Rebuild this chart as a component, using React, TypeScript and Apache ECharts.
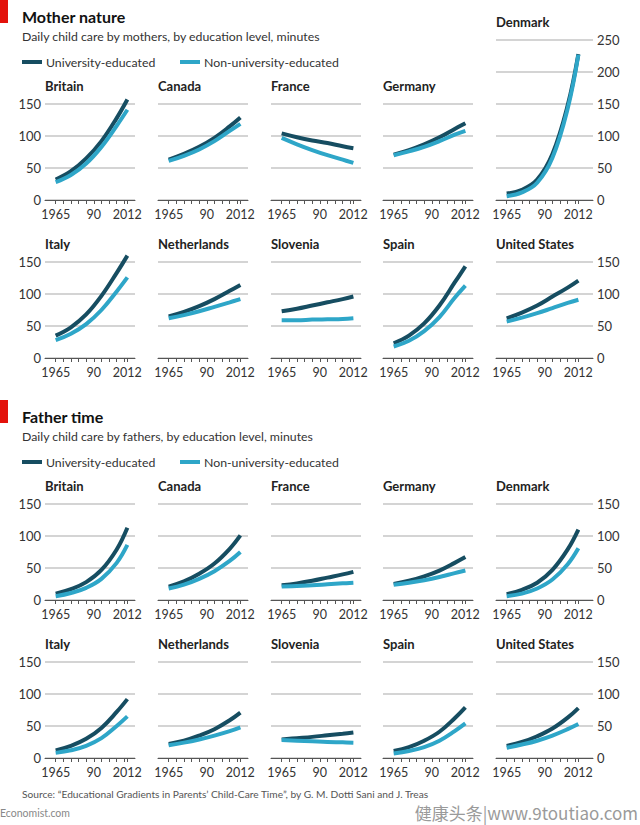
import React, { useEffect, useRef } from "react";
import * as echarts from "echarts";

// ---- Data (minutes per day) ----
const YEARS = [1965, 1975, 1985, 1995, 2005, 2012];
const ROW1 = ["Britain", "Canada", "France", "Germany", "Denmark"];
const ROW2 = ["Italy", "Netherlands", "Slovenia", "Spain", "United States"];
const X_TICKS = [1965, 1970, 1975, 1980, 1985, 1990, 1995, 2000, 2005, 2010, 2012];
const X_LABELS = [1965, 1990, 2012];
const Y_TICKS_STD = [0, 50, 100, 150];
const Y_TICKS_DK = [0, 50, 100, 150, 200, 250];

// Mothers
const mBritainUni = [32, 45, 65, 92, 128, 157];
const mBritainNon = [28, 39, 57, 83, 116, 141];
const mCanadaUni = [63, 72, 83, 97, 115, 129];
const mCanadaNon = [61, 69, 79, 92, 108, 119];
const mFranceUni = [104, 98, 93, 89, 84, 81];
const mFranceNon = [97, 87, 78, 70, 63, 58];
const mGermanyUni = [71, 78, 87, 98, 111, 120];
const mGermanyNon = [70, 76, 83, 92, 102, 108];
const mDenmarkUni = [10, 16, 32, 72, 148, 228];
const mDenmarkNon = [6, 12, 27, 66, 143, 227];
const mItalyUni = [35, 48, 68, 97, 133, 160];
const mItalyNon = [28, 38, 53, 75, 104, 126];
const mNetherlandsUni = [65, 72, 81, 92, 105, 114];
const mNetherlandsNon = [62, 67, 73, 80, 87, 92];
const mSloveniaUni = [73, 77, 82, 87, 92, 96];
const mSloveniaNon = [59, 59, 60, 60.5, 61, 62];
const mSpainUni = [23, 35, 54, 82, 118, 143];
const mSpainNon = [18, 27, 42, 64, 94, 113];
const mUSUni = [62, 71, 82, 96, 110, 121];
const mUSNon = [57, 63, 70, 78, 86, 91];

// Fathers
const fBritainUni = [10, 17, 28, 47, 79, 113];
const fBritainNon = [6, 11, 19, 33, 58, 86];
const fCanadaUni = [21, 29, 41, 57, 80, 101];
const fCanadaNon = [18, 24, 33, 45, 61, 75];
const fFranceUni = [23, 26, 30, 35, 40, 44];
const fFranceNon = [21, 22, 23, 24.5, 26, 27];
const fGermanyUni = [25, 30, 37, 46, 58, 67];
const fGermanyNon = [24, 27, 31, 36, 42, 46];
const fDenmarkUni = [9, 16, 27, 47, 79, 110];
const fDenmarkNon = [6, 10, 18, 32, 56, 81];
const fItalyUni = [12, 19, 30, 47, 72, 92];
const fItalyNon = [8, 12, 19, 31, 50, 65];
const fNetherlandsUni = [22, 27, 35, 45, 59, 71];
const fNetherlandsNon = [20, 24, 29, 35, 42, 48];
const fSloveniaUni = [29, 31, 33, 35.5, 38, 40];
const fSloveniaNon = [28, 27, 26, 25, 24.5, 24];
const fSpainUni = [11, 17, 27, 41, 62, 79];
const fSpainNon = [7, 11, 17, 27, 42, 54];
const fUSUni = [19, 25, 34, 46, 63, 78];
const fUSNon = [16, 21, 27, 35, 45, 53];

const motherRow1 = [
  [mBritainUni, mBritainNon],
  [mCanadaUni, mCanadaNon],
  [mFranceUni, mFranceNon],
  [mGermanyUni, mGermanyNon],
  [mDenmarkUni, mDenmarkNon],
];
const motherRow2 = [
  [mItalyUni, mItalyNon],
  [mNetherlandsUni, mNetherlandsNon],
  [mSloveniaUni, mSloveniaNon],
  [mSpainUni, mSpainNon],
  [mUSUni, mUSNon],
];
const fatherRow1 = [
  [fBritainUni, fBritainNon],
  [fCanadaUni, fCanadaNon],
  [fFranceUni, fFranceNon],
  [fGermanyUni, fGermanyNon],
  [fDenmarkUni, fDenmarkNon],
];
const fatherRow2 = [
  [fItalyUni, fItalyNon],
  [fNetherlandsUni, fNetherlandsNon],
  [fSloveniaUni, fSloveniaNon],
  [fSpainUni, fSpainNon],
  [fUSUni, fUSNon],
];

// ---- Style / layout ----
const FONT = "Lato, 'Open Sans', sans-serif";
const DARK = "#164d61";
const LIGHT = "#2ea6c8";
const GRID_COLOR = "#c6c6c6";
const TEXT = "#333333";
const COL_LEFT = [45, 158, 271, 383, 496];
const PANEL_W = 90;
const LAST_W = 97;
const ROW_TOP = [104, 262, 504, 662];
const PANEL_H = 96;
const X_MIN = 1958;
const X_PER_PX = (2017 - 1958) / 90;

function buildOption() {
  const grids: any[] = [];
  const xAxes: any[] = [];
  const yAxes: any[] = [];
  const series: any[] = [];
  const graphics: any[] = [];

  const rows = [
    { names: ROW1, data: motherRow1, top: ROW_TOP[0] },
    { names: ROW2, data: motherRow2, top: ROW_TOP[1] },
    { names: ROW1, data: fatherRow1, top: ROW_TOP[2] },
    { names: ROW2, data: fatherRow2, top: ROW_TOP[3] },
  ];

  rows.forEach((row, ri) => {
    row.names.forEach((name, ci) => {
      const idx = grids.length;
      const isDK = ri === 0 && ci === 4;
      const yMax = isDK ? 250 : 150;
      const top = isDK ? row.top - 64 : row.top;
      const height = isDK ? PANEL_H + 64 : PANEL_H;
      const width = ci === 4 ? LAST_W : PANEL_W;
      grids.push({ left: COL_LEFT[ci], top, width, height, containLabel: false });
      xAxes.push({
        gridIndex: idx,
        type: "value",
        min: X_MIN,
        max: X_MIN + width * X_PER_PX,
        axisLine: { show: true, lineStyle: { color: "#555", width: 1 } },
        axisTick: {
          show: true,
          customValues: X_TICKS,
          length: 4,
          lineStyle: { color: "#555", width: 1 },
        },
        axisLabel: {
          show: true,
          customValues: X_LABELS,
          margin: 8,
          fontFamily: FONT,
          fontSize: 12.5,
          color: TEXT,
          formatter: (v: number) => (v === 1990 ? "90" : String(v)),
        },
        splitLine: { show: false },
      });
      yAxes.push({
        gridIndex: idx,
        type: "value",
        min: 0,
        max: yMax,
        interval: 50,
        position: ci === 4 ? "right" : "left",
        axisLine: { show: false },
        axisTick: { show: false },
        axisLabel: {
          show: ci === 0 || ci === 4,
          customValues: isDK ? Y_TICKS_DK : Y_TICKS_STD,
          margin: 4,
          fontFamily: FONT,
          fontSize: 13,
          color: TEXT,
        },
        splitLine: { show: true, lineStyle: { color: GRID_COLOR, width: 1.5 } },
      });
      const [uni, non] = row.data[ci];
      series.push({
        type: "line",
        name: "University-educated",
        xAxisIndex: idx,
        yAxisIndex: idx,
        data: YEARS.map((y, i) => [y, uni[i]]),
        smooth: 0.4,
        symbol: "none",
        clip: false,
        lineStyle: { color: DARK, width: 4, cap: "butt" },
        z: 3,
      });
      series.push({
        type: "line",
        name: "Non-university-educated",
        xAxisIndex: idx,
        yAxisIndex: idx,
        data: YEARS.map((y, i) => [y, non[i]]),
        smooth: 0.4,
        symbol: "none",
        clip: false,
        lineStyle: { color: LIGHT, width: 4, cap: "butt" },
        z: 4,
      });
      graphics.push({
        type: "text",
        x: COL_LEFT[ci],
        y: top - 18,
        style: {
          text: name,
          fill: "#222",
          font: `bold 13px ${FONT}`,
          textAlign: "left",
          textVerticalAlign: "middle",
        },
      });
    });
  });

  const sections = [
    { y: 0, title: "Mother nature", sub: "Daily child care by mothers, by education level, minutes" },
    { y: 400, title: "Father time", sub: "Daily child care by fathers, by education level, minutes" },
  ];
  sections.forEach((s) => {
    graphics.push({ type: "rect", shape: { x: 0, y: s.y, width: 8, height: 23 }, style: { fill: "#e3120b" } });
    graphics.push({
      type: "text",
      x: 22,
      y: s.y + 16,
      style: { text: s.title, fill: "#111", font: `bold 16px ${FONT}`, textVerticalAlign: "middle" },
    });
    graphics.push({
      type: "text",
      x: 22,
      y: s.y + 36,
      style: { text: s.sub, fill: TEXT, font: `12.3px ${FONT}`, textVerticalAlign: "middle" },
    });
    const ly = s.y + 62;
    graphics.push({ type: "line", shape: { x1: 22, y1: ly, x2: 42, y2: ly }, style: { stroke: DARK, lineWidth: 4 } });
    graphics.push({
      type: "text",
      x: 46,
      y: ly,
      style: { text: "University-educated", fill: TEXT, font: `12.3px ${FONT}`, textVerticalAlign: "middle" },
    });
    graphics.push({ type: "line", shape: { x1: 180, y1: ly, x2: 200, y2: ly }, style: { stroke: LIGHT, lineWidth: 4 } });
    graphics.push({
      type: "text",
      x: 204,
      y: ly,
      style: { text: "Non-university-educated", fill: TEXT, font: `12.3px ${FONT}`, textVerticalAlign: "middle" },
    });
  });

  graphics.push({
    type: "text",
    x: 22,
    y: 794,
    style: {
      text: "Source: \u201CEducational Gradients in Parents\u2019 Child-Care Time\u201D, by G. M. Dotti Sani and J. Treas",
      fill: "#555",
      font: `10.2px ${FONT}`,
      textVerticalAlign: "middle",
    },
  });
  graphics.push({
    type: "text",
    x: 0,
    y: 813,
    style: { text: "Economist.com", fill: "#888", font: `10.5px ${FONT}`, textVerticalAlign: "middle" },
  });
  graphics.push({
    type: "text",
    x: 638,
    y: 812,
    style: {
      text: "健康头条|www.9toutiao.com",
      fill: "#9a9a9a",
      font: `17px 'Noto Sans CJK SC', 'DejaVu Sans', sans-serif`,
      textAlign: "right",
      textVerticalAlign: "middle",
    },
  });

  return {
    animation: false,
    backgroundColor: "#ffffff",
    grid: grids,
    xAxis: xAxes,
    yAxis: yAxes,
    series,
    graphic: graphics,
  };
}

export default function App() {
  const ref = useRef<HTMLDivElement>(null);
  useEffect(() => {
    if (!ref.current) return;
    const chart = echarts.init(ref.current, undefined, { renderer: "svg" });
    chart.setOption(buildOption() as any);
    return () => chart.dispose();
  }, []);
  return (
    <div
      ref={ref}
      style={{ position: "absolute", left: 0, top: 0, width: 640, height: 825 }}
    />
  );
}
